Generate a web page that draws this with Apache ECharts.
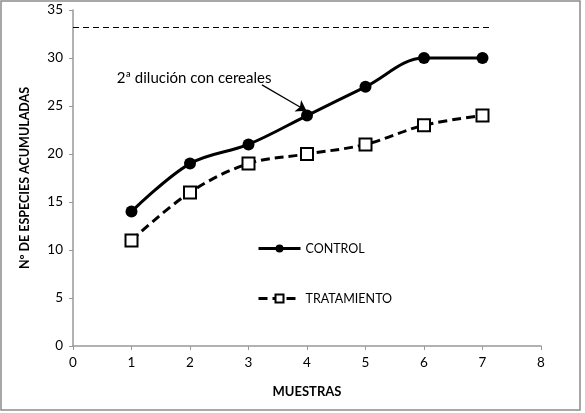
<!DOCTYPE html>
<html>
<head>
<meta charset="utf-8">
<script src="https://cdn.jsdelivr.net/npm/echarts@6/dist/echarts.min.js"></script>
<style>
  html, body { margin: 0; padding: 0; background: #fff; }
  #chart { width: 585px; height: 413px; }
</style>
</head>
<body>
<div id="chart"></div>
<script>
// datos
const muestras = [1, 2, 3, 4, 5, 6, 7]
const control = [14, 19, 21, 24, 27, 30, 30]
const tratamiento = [11, 16, 19, 20, 21, 23, 24]
const asintota = 33.25
const asintotaFin = 7.15
const nota = '2ª dilución con cereales'

const font = 'Lato, "Open Sans", sans-serif'
const chart = echarts.init(document.getElementById('chart'))

const pares = (ys) => muestras.map((x, i) => [x, ys[i]])

chart.setOption({
  animation: false,
  textStyle: { fontFamily: font },
  graphic: [{
    type: 'rect',
    shape: { x: 1, y: 1, width: 579, height: 409 },
    style: { fill: 'none', stroke: '#8c8c8c', lineWidth: 1.5 }
  }],
  grid: { left: 73, right: 44, top: 10, bottom: 67 },
  legend: {
    orient: 'vertical',
    left: 252,
    top: 237,
    itemGap: 37,
    itemWidth: 42,
    itemHeight: 10,
    lineStyle: { width: 3 },
    textStyle: { fontFamily: font, fontSize: 12.5, color: '#000' },
    data: ['CONTROL', 'TRATAMIENTO']
  },
  xAxis: {
    type: 'value',
    min: 0, max: 8, interval: 1,
    name: 'MUESTRAS',
    nameLocation: 'middle',
    nameGap: 39,
    nameTextStyle: { fontFamily: font, fontWeight: 'bold', fontSize: 13, color: '#000' },
    axisLine: { show: true, lineStyle: { color: '#999', width: 1.5 } },
    axisTick: { show: true, length: 4, lineStyle: { color: '#999' } },
    axisLabel: { fontFamily: font, fontSize: 13.5, color: '#000', margin: 10 },
    splitLine: { show: false }
  },
  yAxis: {
    type: 'value',
    min: 0, max: 35, interval: 5,
    name: 'Nº DE ESPECIES ACUMULADAS',
    nameLocation: 'middle',
    nameGap: 42,
    nameTextStyle: { fontFamily: font, fontWeight: 'bold', fontSize: 12.5, color: '#000' },
    axisLine: { show: true, lineStyle: { color: '#999', width: 1.5 } },
    axisTick: { show: true, length: 4, lineStyle: { color: '#999' } },
    axisLabel: { fontFamily: font, fontSize: 13.5, color: '#000', margin: 10 },
    splitLine: { show: false }
  },
  series: [
    {
      name: 'CONTROL',
      type: 'line',
      data: pares(control),
      smooth: 0.35,
      symbol: 'circle',
      symbolSize: 12,
      itemStyle: { color: '#000' },
      lineStyle: { color: '#000', width: 3 },
      z: 3,
      markLine: {
        silent: true,
        symbol: ['none', 'none'],
        label: { show: false },
        lineStyle: { color: '#000', type: [6, 4], width: 1.2 },
        data: [[{ coord: [0, asintota] }, { coord: [asintotaFin, asintota] }]]
      }
    },
    {
      name: 'TRATAMIENTO',
      type: 'line',
      data: pares(tratamiento),
      smooth: 0.35,
      symbol: 'rect',
      symbolSize: 12,
      itemStyle: { color: '#fff', borderColor: '#000', borderWidth: 2 },
      lineStyle: { color: '#000', width: 3, type: [9, 5] },
      z: 2,
      markLine: {
        silent: true,
        symbol: ['none', 'arrow'],
        symbolSize: 10,
        label: { show: false },
        lineStyle: { color: '#000', type: 'solid', width: 1.2 },
        data: [[{ coord: [3.23, 27.2] }, { coord: [3.99, 24.5] }]]
      },
      markPoint: {
        silent: true,
        symbol: 'rect',
        symbolSize: 1,
        itemStyle: { color: 'rgba(0,0,0,0)' },
        label: {
          show: true,
          position: 'inside',
          formatter: nota,
          fontFamily: font,
          fontSize: 15,
          color: '#000'
        },
        data: [{ coord: [2.07, 27.95] }]
      }
    }
  ]
})
</script>
</body>
</html>
